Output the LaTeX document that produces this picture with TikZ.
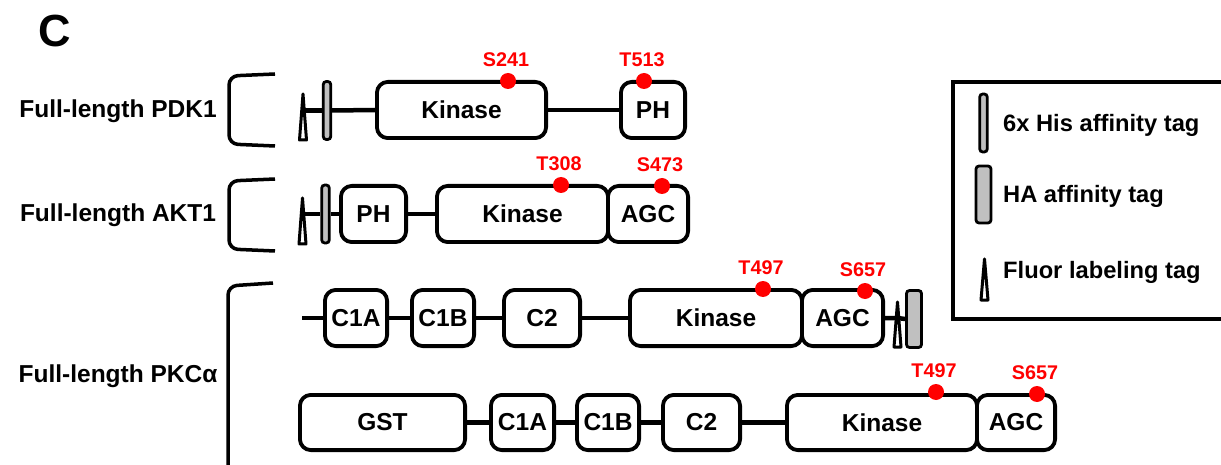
\documentclass[tikz,border=0pt]{standalone}
\usepackage{fontspec}
\setmainfont{Liberation Sans}
\begin{document}
\definecolor{taggray}{HTML}{C0C0C0}
\definecolor{sitered}{HTML}{FF0000}
\tikzset{
  dom/.style={draw, line width=3.8pt, rounded corners=11pt, fill=white,
    inner sep=0pt, font=\fontsize{24.5}{28}\selectfont\bfseries},
  link/.style={line width=4.5pt},
  brk/.style={line width=3.5pt, rounded corners=9pt},
  histag/.style={draw, fill=taggray, line width=2.8pt, rounded corners=3pt,
    inner sep=0pt, minimum width=7.5pt, minimum height=58pt},
  hatag/.style={draw, fill=taggray, line width=2.8pt, rounded corners=3pt,
    inner sep=0pt, minimum width=15pt, minimum height=57pt},
  fluortri/.style={draw, fill=white, line width=3pt, line join=round},
  pdot/.style={circle, fill=sitered, inner sep=0pt, minimum size=16pt},
  sitelbl/.style={text=sitered, font=\fontsize{19.8}{23}\selectfont\bfseries, inner sep=0pt},
  protlbl/.style={font=\fontsize{24.5}{28}\selectfont\bfseries, inner sep=0pt},
  legtext/.style={font=\fontsize{23.7}{28}\selectfont\bfseries, inner sep=0pt, anchor=west},
  paneltitle/.style={font=\fontsize{45}{50}\selectfont\bfseries, inner sep=0pt},
}
% domain box: name, left, right, top, bottom, label (outer edges)
\newcommand\dombox[6]{%
  \node[dom, minimum width={#3-#2-3.8}, minimum height={#5-#4-3.8}]
    (#1) at ({(#2+#3)/2},{(#4+#5)/2}) {#6};}
% fluorescent labelling tag: name, x, apex y, base y
\newcommand\fluorat[4]{\coordinate (#1) at (#2,{(#3+#4)/2});}
\newcommand\fluordraw[3]{\draw[fluortri] ({#1-3.5},#3) -- (#1,#2) -- ({#1+3.5},#3) -- cycle;}
% phosphosite: name, x, y, label
\newcommand\psite[4]{%
  \node[pdot] (#1) at (#2,#3) {};
  \node[sitelbl] (#1l) at ({#2-2},{#3-21}) {#4};}
\begin{tikzpicture}[x=1pt,y=-1pt]
\useasboundingbox (0,0) rectangle (1221,465);
\clip (0,0) rectangle (1221,465);

\node[paneltitle] (title) at (55,31) {C};

% ---------- PDK1 ----------
\node[protlbl] (lpdk) at (118,111) {Full-length PDK1};
\draw[brk] (275,74) -- (229,76) -- (229,144) -- (275,146);
\dombox{kin1}{375}{548}{80}{140}{Kinase}
\dombox{ph1}{619}{687}{80}{140}{PH}
\node[histag] (his1) at (327,110.5) {};
\fluorat{fl1}{303}{94}{140}
\draw[link] (fl1 |- his1) -- (his1.west);
\draw[link] (his1.east) -- (kin1.west);
\draw[link] (kin1.east) -- (ph1.west);
\fluordraw{303}{94}{140}
\psite{s241}{508}{81}{S241}
\psite{t513}{644}{81}{T513}

% ---------- AKT1 ----------
\node[protlbl] (lakt) at (118,215) {Full-length AKT1};
\draw[brk] (275,179) -- (229,181) -- (229,249) -- (275,251);
\dombox{ph2}{339}{408}{184}{244}{PH}
\dombox{kin2}{435}{610}{184}{244}{Kinase}
\dombox{agc2}{606}{690}{184}{244}{AGC}
\node[histag] (his2) at (325.5,214) {};
\fluorat{fl2}{302.5}{198}{244}
\draw[link] (fl2 |- his2) -- (his2.west);
\draw[link] (his2.east) -- (ph2.west);
\draw[link] (ph2.east) -- (kin2.west);
\fluordraw{302.5}{198}{244}
\psite{t308}{561}{185}{T308}
\psite{s473}{662}{186}{S473}

% ---------- PKC alpha ----------
\node[protlbl] (lpkc) at (118,376) {Full-length PKCα};
\draw[brk] (273,283) -- (228,286) -- (228,475);

% construct with C-terminal tags
\coordinate (start3) at (302,318);
\dombox{c1a1}{323}{389}{288}{348}{C1A}
\dombox{c1b1}{410}{476}{288}{348}{C1B}
\dombox{c21}{502}{582}{288}{348}{C2}
\dombox{kin3}{628}{804}{288}{348}{Kinase}
\dombox{agc3}{800}{885}{288}{348}{AGC}
\node[hatag] (ha1) at (914,319) {};
\fluorat{fl3}{897.5}{302}{347}
\draw[link] (start3) -- (c1a1.west);
\draw[link] (c1a1.east) -- (c1b1.west);
\draw[link] (c1b1.east) -- (c21.west);
\draw[link] (c21.east) -- (kin3.west);
\draw[link] (agc3.east) -- (fl3 |- agc3) -- (ha1.west);
\fluordraw{897.5}{302}{347}
\psite{t497a}{763}{289}{T497}
\psite{s657a}{865}{291}{S657}

% GST fusion construct
\dombox{gst}{298}{467}{393}{452}{GST}
\dombox{c1a2}{489}{556}{393}{452}{C1A}
\dombox{c1b2}{575}{641}{393}{452}{C1B}
\dombox{c22}{661}{742}{393}{452}{C2}
\dombox{kin4}{785}{979}{393}{452}{Kinase}
\dombox{agc4}{975}{1057}{393}{452}{AGC}
\draw[link] (gst.east) -- (c1a2.west);
\draw[link] (c1a2.east) -- (c1b2.west);
\draw[link] (c1b2.east) -- (c22.west);
\draw[link] (c22.east) -- (kin4.west);
\psite{t497b}{936}{392}{T497}
\psite{s657b}{1037}{394}{S657}

% ---------- legend ----------
\draw[line width=3.5pt] (1240,82) -- (953,82) -- (953,319) -- (1240,319);
\node[histag] (lhis) at (983.5,123) {};
\node[legtext] (this) at (1003,125) {6x His affinity tag};
\node[hatag] (lha) at (983.5,194.5) {};
\node[legtext] (tha) at (1003,196) {HA affinity tag};
\fluordraw{984.5}{259}{300}
\node[legtext] (tfl) at (1003,272) {Fluor labeling tag};
\end{tikzpicture}
\end{document}
